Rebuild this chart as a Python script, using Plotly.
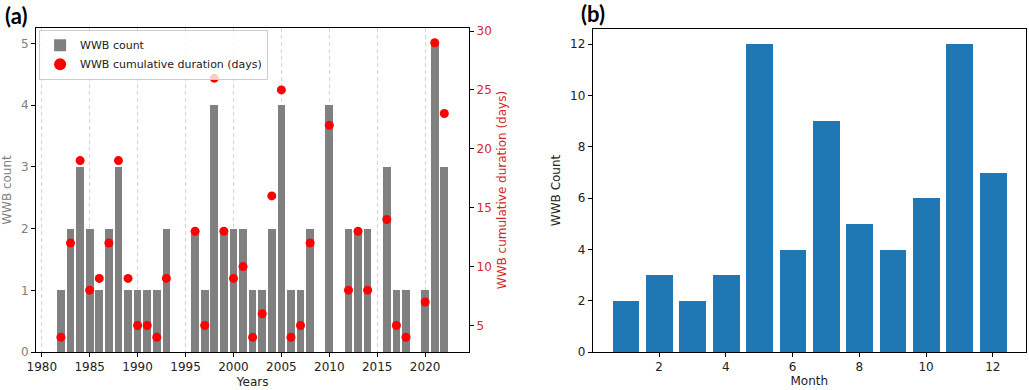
import plotly.graph_objects as go

# --- data ---
years = list(range(1982, 2023))
wwb_count = [1, 2, 3, 2, 1, 2, 3, 1, 1, 1, 1, 2, 0, 0, 2, 1, 4, 2, 2, 2, 1,
             1, 2, 4, 1, 1, 2, 0, 4, 0, 2, 2, 2, 0, 3, 1, 1, 0, 1, 5, 3]

dur_years = [1982, 1983, 1984, 1985, 1986, 1987, 1988, 1989, 1990, 1991, 1992, 1993,
             1996, 1997, 1998, 1999, 2000, 2001, 2002, 2003, 2004, 2005, 2006, 2007,
             2008, 2010, 2012, 2013, 2014, 2016, 2017, 2018, 2020, 2021, 2022]
dur_days = [4, 12, 19, 8, 9, 12, 19, 9, 5, 5, 4, 9,
            13, 5, 26, 13, 9, 10, 4, 6, 16, 25, 4, 5,
            12, 22, 8, 13, 8, 14, 5, 4, 7, 29, 23]

months = list(range(1, 13))
month_count = [2, 3, 2, 3, 12, 4, 9, 5, 4, 6, 12, 7]

GRAY = "#808080"
RED_AX = "#d62728"
BLUE = "#1f77b4"
FONT = "DejaVu Sans"

fig = go.Figure()

fig.add_trace(go.Bar(
    x=years, y=wwb_count, width=0.8, name="WWB count",
    marker=dict(color=GRAY, line=dict(width=0)),
    xaxis="x", yaxis="y",
))
fig.add_trace(go.Scatter(
    x=dur_years, y=dur_days, mode="markers", name="WWB cumulative duration (days)",
    marker=dict(color="#ff0000", size=9),
    xaxis="x3", yaxis="y2",
))
fig.add_trace(go.Bar(
    x=months, y=month_count, width=0.8, showlegend=False,
    marker=dict(color=BLUE, line=dict(width=0)),
    xaxis="x2", yaxis="y3",
))

axis_common = dict(
    showline=True, linecolor="black", linewidth=1, mirror=True,
    ticks="outside", ticklen=4, tickwidth=1, tickcolor="black",
    zeroline=False, showgrid=False, automargin=False,
    tickfont=dict(family=FONT, size=12, color="#222"),
    title_font=dict(family=FONT, size=12, color="#222"),
)

xa = dict(axis_common)
xa.update(domain=[0.035, 0.456], range=[1979.4, 2024.6], dtick=5, tick0=1980,
          title_text="Years", title_standoff=4, anchor="y")
xa_over = dict(domain=[0.035, 0.456], range=[1979.4, 2024.6], dtick=5, tick0=1980,
               overlaying="x", anchor="y2", showticklabels=False, ticks="",
               showline=False, zeroline=False, automargin=False,
               showgrid=True, gridcolor="#d4d4d4", griddash="4px,3px", gridwidth=1)

ya = dict(axis_common)
ya.update(domain=[0.0974, 0.928], range=[0, 5.25], dtick=1, anchor="x",
          tickfont=dict(family=FONT, size=12, color=GRAY),
          title=dict(text="WWB count", standoff=6,
                     font=dict(family=FONT, size=12, color=GRAY)))
ya2 = dict(axis_common)
ya2.update(range=[2.75, 30.25], tick0=5, dtick=5, overlaying="y", side="right",
           anchor="x3", mirror=False,
           tickfont=dict(family=FONT, size=12, color=RED_AX),
           title=dict(text="WWB cumulative duration (days)", standoff=6,
                      font=dict(family=FONT, size=12, color=RED_AX)))

xb = dict(axis_common)
xb.update(domain=[0.576, 0.997], range=[0.01, 12.99], tick0=2, dtick=2,
          anchor="y3", title_text="Month", title_standoff=2)
yb = dict(axis_common)
yb.update(domain=[0.0974, 0.926], range=[0, 12.6], dtick=2, anchor="x2",
          title_text="WWB Count", title_standoff=6)

fig.update_layout(
    width=1029, height=390,
    margin=dict(l=0, r=0, t=0, b=0, autoexpand=False),
    paper_bgcolor="white", plot_bgcolor="white",
    font=dict(family=FONT, size=12, color="#222"),
    xaxis=xa, xaxis3=xa_over, yaxis=ya, yaxis2=ya2,
    xaxis2=xb, yaxis3=yb,
    bargap=0,
    legend=dict(
        x=0.038, y=0.924, xanchor="left", yanchor="top",
        bgcolor="rgba(255,255,255,0.8)", bordercolor="#cccccc", borderwidth=1,
        font=dict(family=FONT, size=11, color="#222"),
        tracegroupgap=0, itemsizing="constant", itemwidth=30,
    ),
    showlegend=True,
)

fig.add_annotation(text="<b>(a)</b>", x=0.003, y=1.0, xref="paper", yref="paper",
                   xanchor="left", yanchor="top", showarrow=False,
                   font=dict(family="Lato", size=22, color="black"))
fig.add_annotation(text="<b>(b)</b>", x=0.563, y=1.005, xref="paper", yref="paper",
                   xanchor="left", yanchor="top", showarrow=False,
                   font=dict(family="Lato", size=22, color="black"))

fig.write_html("out.html", config={"displayModeBar": False},
               post_script="document.body.style.margin='0';")
